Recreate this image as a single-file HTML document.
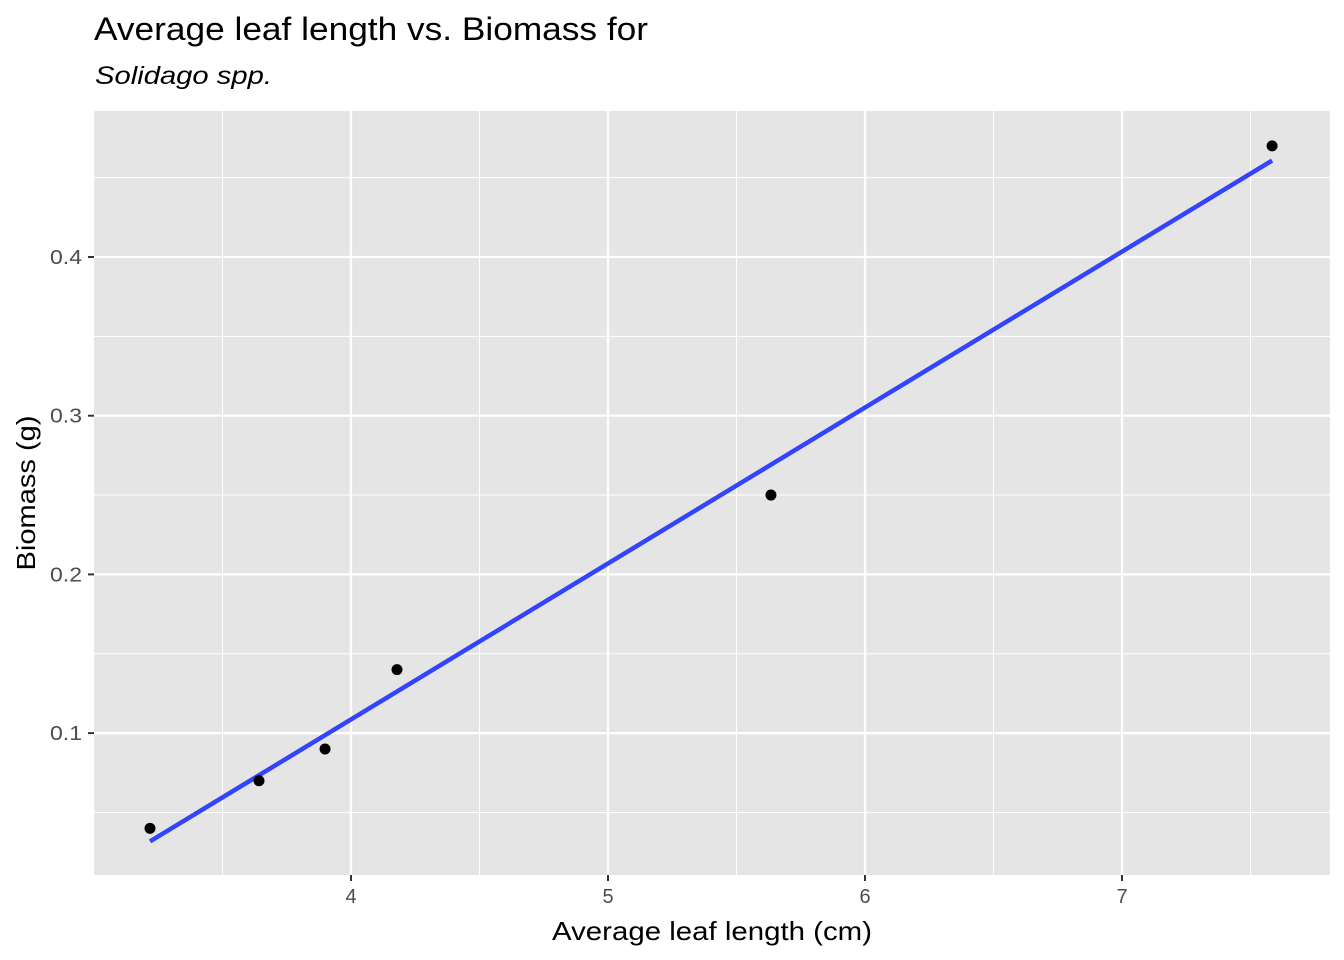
<!DOCTYPE html>
<html><head><meta charset="utf-8"><style>
body{margin:0;background:#fff;}
svg{display:block;font-family:"Liberation Sans",Arial,sans-serif;}
</style></head><body>
<svg id="chart" width="1344" height="960">
<text x="94" y="40" font-size="32" textLength="554" lengthAdjust="spacingAndGlyphs" fill="#000">Average leaf length vs. Biomass for</text>
<text x="95" y="84" font-size="25" textLength="177" lengthAdjust="spacingAndGlyphs" font-style="italic" fill="#000">Solidago spp.</text>
<rect x="94" y="111" width="1236" height="764" fill="#e5e5e5"/>
<g id="grid"></g><g id="marks"></g><g id="axes"></g>
<text x="712" y="940" font-size="26" text-anchor="middle" textLength="320" lengthAdjust="spacingAndGlyphs" fill="#000">Average leaf length (cm)</text>
<text transform="translate(35,493) rotate(-90)" font-size="26" text-anchor="middle" textLength="155" lengthAdjust="spacingAndGlyphs" fill="#000">Biomass (g)</text>
</svg>
<script>
const leafLength=[3.218,3.642,3.899,4.179,5.634,7.584];
const biomass=[0.04,0.07,0.09,0.14,0.25,0.47];
const xTicks=[4,5,6,7];
const yTicks=[0.1,0.2,0.3,0.4];
const xMinor=[3.5,4.5,5.5,6.5,7.5];
const yMinor=[0.05,0.15,0.25,0.35,0.45];
const NS="http://www.w3.org/2000/svg";
const X=v=>351+(v-4)*257;
const Y=v=>257-(v-0.4)*1587;
function mk(p,t,a){const e=document.createElementNS(NS,t);for(const k in a)e.setAttribute(k,a[k]);document.getElementById(p).appendChild(e);return e;}
xMinor.forEach(v=>{const e=mk('grid','line',{x1:X(v),x2:X(v),y1:111,y2:875,stroke:'#fff','stroke-width':1});

});
yMinor.forEach(v=>{const e=mk('grid','line',{x1:94,x2:1330,y1:Y(v),y2:Y(v),stroke:'#fff','stroke-width':1});

});
xTicks.forEach(v=>{const e=mk('grid','line',{x1:X(v),x2:X(v),y1:111,y2:875,stroke:'#fff','stroke-width':2.2});


const t=mk('axes','line',{x1:X(v),x2:X(v),y1:875,y2:881,stroke:'#333','stroke-width':2});


const l=mk('axes','text',{x:X(v),y:903,'font-size':20,'text-anchor':'middle',fill:'#4d4d4d'});l.textContent=v;

});
yTicks.forEach(v=>{const e=mk('grid','line',{x1:94,x2:1330,y1:Y(v),y2:Y(v),stroke:'#fff','stroke-width':2.2});


const t=mk('axes','line',{x1:88,x2:94,y1:Y(v),y2:Y(v),stroke:'#333','stroke-width':2});


const l=mk('axes','text',{x:82,y:Y(v)+7,'font-size':20,'text-anchor':'end',textLength:32,lengthAdjust:'spacingAndGlyphs',fill:'#4d4d4d'});l.textContent=v.toFixed(1);

});
const n=leafLength.length,mx=leafLength.reduce((a,b)=>a+b)/n,my=biomass.reduce((a,b)=>a+b)/n;
let sxy=0,sxx=0;for(let i=0;i<n;i++){sxy+=(leafLength[i]-mx)*(biomass[i]-my);sxx+=(leafLength[i]-mx)**2;}
const b=sxy/sxx,a=my-b*mx,x0=Math.min(...leafLength),x1=Math.max(...leafLength);
const fit=mk('marks','line',{x1:X(x0),y1:Y(a+b*x0),x2:X(x1),y2:Y(a+b*x1),stroke:'#3344ff','stroke-width':4.5});


for(let i=0;i<n;i++){const c=mk('marks','circle',{cx:X(leafLength[i]),cy:Y(biomass[i]),r:5.5,fill:'#000'});

}
</script>
</body></html>
